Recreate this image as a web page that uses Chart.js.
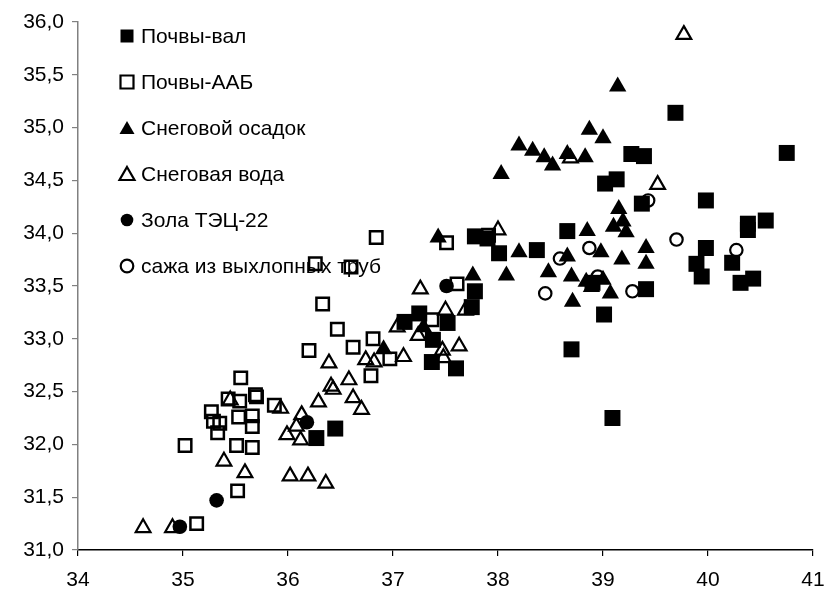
<!DOCTYPE html>
<html>
<head>
<meta charset="utf-8">
<script src="https://cdn.jsdelivr.net/npm/chart.js@4.4.1/dist/chart.umd.min.js"></script>
<style>
  body { margin: 0; background: #fff; }
</style>
</head>
<body>
<canvas id="isoChart" width="825" height="590"></canvas>
<script>
// series names (legend order)
var seriesNames = ['Почвы-вал', 'Почвы-ААБ', 'Снеговой осадок', 'Снеговая вода', 'Зола ТЭЦ-22', 'сажа из выхлопных труб'];

// points, [x, y]
var pochvyVal = [
  [39.69, 35.14], [39.27, 34.75], [39.39, 34.73], [40.75, 34.76], [39.02, 34.47], [39.13, 34.51],
  [39.37, 34.28], [39.98, 34.31], [40.38, 34.09], [40.38, 34.03], [40.55, 34.12], [38.66, 34.02],
  [39.98, 33.86], [37.78, 33.97], [37.90, 33.95], [38.01, 33.81], [38.37, 33.84], [39.89, 33.71],
  [39.94, 33.59], [40.23, 33.72], [40.31, 33.53], [40.43, 33.57], [39.41, 33.47], [37.78, 33.45],
  [37.75, 33.30], [39.01, 33.23], [38.70, 32.90], [39.09, 32.25], [37.25, 33.24], [37.11, 33.16],
  [37.52, 33.15], [37.38, 32.99], [37.37, 32.78], [37.60, 32.72], [36.27, 32.06], [36.45, 32.15],
  [38.90, 33.53]
];
var pochvyAAB = [
  [35.55, 32.63], [35.43, 32.43], [35.54, 32.41], [35.69, 32.47], [35.70, 32.45], [35.27, 32.31],
  [35.29, 32.22], [35.33, 32.11], [35.35, 32.20], [35.53, 32.26], [35.66, 32.27], [35.66, 32.17],
  [35.87, 32.37], [35.02, 31.99], [35.51, 31.99], [35.66, 31.97], [35.52, 31.56], [35.13, 31.25],
  [36.33, 33.33], [36.47, 33.09], [36.20, 32.89], [36.62, 32.92], [36.81, 33.00], [36.79, 32.65],
  [36.97, 32.81], [36.84, 33.96], [36.26, 33.71], [36.60, 33.68], [37.37, 33.18], [37.51, 33.91],
  [37.91, 33.98], [37.61, 33.52]
];
var snowSediment = [
  [39.14, 35.39], [38.87, 34.98], [39.00, 34.90], [38.20, 34.83], [38.33, 34.78], [38.44, 34.72],
  [38.52, 34.64], [38.66, 34.75], [38.83, 34.72], [38.03, 34.56], [39.15, 34.23], [39.10, 34.06],
  [39.19, 34.11], [39.22, 34.01], [38.85, 34.02], [37.43, 33.96], [37.76, 33.60], [38.08, 33.60],
  [38.20, 33.82], [38.48, 33.63], [38.66, 33.78], [38.98, 33.82], [39.18, 33.75], [39.41, 33.86],
  [39.41, 33.71], [38.70, 33.59], [38.84, 33.54], [38.89, 33.49], [39.00, 33.56], [39.07, 33.43],
  [38.71, 33.35], [36.91, 32.90], [37.29, 33.11]
];
var snowWater = [
  [39.77, 35.88], [39.52, 34.46], [38.69, 34.71], [38.00, 34.03], [37.26, 33.47], [37.50, 33.27],
  [37.69, 33.27], [37.24, 33.03], [37.47, 32.89], [37.63, 32.93], [37.48, 32.82], [37.10, 32.83],
  [37.04, 33.11], [36.74, 32.80], [36.82, 32.78], [36.39, 32.77], [36.58, 32.61], [36.41, 32.55],
  [36.43, 32.52], [36.29, 32.40], [36.62, 32.44], [36.70, 32.33], [35.93, 32.34], [36.13, 32.28],
  [35.99, 32.09], [36.08, 32.17], [36.12, 32.04], [36.02, 31.70], [36.19, 31.70], [36.36, 31.63],
  [34.62, 31.21], [34.90, 31.21], [35.39, 31.84], [35.59, 31.73], [35.45, 32.42]
];
var ashTEC = [
  [34.97, 31.22], [35.32, 31.47], [36.18, 32.21], [37.51, 33.50]
];
var exhaustSoot = [
  [39.70, 33.94], [40.27, 33.84], [39.43, 34.31], [38.87, 33.86], [38.59, 33.76], [38.45, 33.43],
  [38.95, 33.59], [39.28, 33.45]
];

// axis ticks
var xTicks = [34, 35, 36, 37, 38, 39, 40, 41];
var yTicks = [31.0, 31.5, 32.0, 32.5, 33.0, 33.5, 34.0, 34.5, 35.0, 35.5, 36.0];

var FONT = 'Liberation Sans, Arial, sans-serif';

// marker looks per series
var markers = [
  { style: 'rect',     filled: true,  radius: 11.3, border: 0 },
  { style: 'rect',     filled: false, radius: 8.8, border: 2.5 },
  { style: 'triangle', filled: true,  radius: 10,  border: 0 },
  { style: 'triangle', filled: false, radius: 8.5, border: 2.2 },
  { style: 'circle',   filled: true,  radius: 7.3, border: 0 },
  { style: 'circle',   filled: false, radius: 6.2, border: 2.2 }
];

function toPoints(arr) {
  return arr.map(function (p) { return { x: p[0], y: p[1] }; });
}

var allSeries = [pochvyVal, pochvyAAB, snowSediment, snowWater, ashTEC, exhaustSoot];

var datasets = allSeries.map(function (arr, i) {
  var m = markers[i];
  return {
    label: seriesNames[i],
    data: toPoints(arr),
    pointStyle: m.style,
    pointRadius: m.radius,
    pointHoverRadius: m.radius,
    pointBorderWidth: m.border,
    pointBorderColor: '#000',
    pointBackgroundColor: m.filled ? '#000' : 'rgba(0,0,0,0)',
    order: allSeries.length - i
  };
});

// small marker drawn in the legend
function drawLegendMarker(ctx, m, x, y) {
  ctx.save();
  ctx.beginPath();
  if (m.style === 'rect') {
    ctx.rect(x - 6.5, y - 6.5, 13, 13);
  } else if (m.style === 'triangle') {
    ctx.moveTo(x, y - 7);
    ctx.lineTo(x + 7.5, y + 6);
    ctx.lineTo(x - 7.5, y + 6);
    ctx.closePath();
  } else {
    ctx.arc(x, y, 6.3, 0, Math.PI * 2);
  }
  if (m.filled) {
    ctx.fillStyle = '#000';
    ctx.fill();
  } else {
    ctx.lineWidth = 2.2;
    ctx.strokeStyle = '#000';
    ctx.stroke();
  }
  ctx.restore();
}

var insideLegend = {
  id: 'insideLegend',
  beforeDatasetsDraw: function (chart) {
    var ctx = chart.ctx;
    ctx.save();
    ctx.font = '21px ' + FONT;
    ctx.fillStyle = '#000';
    ctx.textBaseline = 'middle';
    for (var i = 0; i < seriesNames.length; i++) {
      var y = 36 + i * 46;
      drawLegendMarker(ctx, markers[i], 127, y);
      ctx.fillText(seriesNames[i], 141, y + 1);
    }
    ctx.restore();
  }
};

var ctx = document.getElementById('isoChart').getContext('2d');
var isoChart = new Chart(ctx, {
  type: 'scatter',
  data: { datasets: datasets },
  options: {
    responsive: false,
    animation: false,
    events: [],
    layout: { padding: { top: 22, right: 12, left: 0, bottom: 0 } },
    plugins: {
      legend: { display: false },
      tooltip: { enabled: false }
    },
    scales: {
      x: {
        type: 'linear',
        min: xTicks[0],
        max: xTicks[xTicks.length - 1],
        afterBuildTicks: function (scale) {
          scale.ticks = xTicks.map(function (v) { return { value: v }; });
        },
        afterFit: function (scale) {
          scale.height = 40;
          scale.paddingLeft = 0;
          scale.paddingRight = 0;
        },
        ticks: {
          color: '#000',
          font: { family: FONT, size: 21 },
          padding: 12,
          maxRotation: 0,
          callback: function (v) { return String(v); }
        },
        grid: { drawOnChartArea: false, tickLength: 6, color: '#000', lineWidth: 1.2 },
        border: { color: '#000', width: 1.5 }
      },
      y: {
        type: 'linear',
        min: yTicks[0],
        max: yTicks[yTicks.length - 1],
        afterBuildTicks: function (scale) {
          scale.ticks = yTicks.map(function (v) { return { value: v }; });
        },
        afterFit: function (scale) {
          scale.width = 78;
          scale.paddingTop = 0;
          scale.paddingBottom = 0;
        },
        ticks: {
          color: '#000',
          font: { family: FONT, size: 21 },
          padding: 8,
          callback: function (v) { return v.toFixed(1).replace('.', ','); }
        },
        grid: { drawOnChartArea: false, tickLength: 6, color: '#808080', lineWidth: 1.2 },
        border: { color: '#808080', width: 1.5 }
      }
    }
  },
  plugins: [insideLegend]
});
</script>
</body>
</html>
